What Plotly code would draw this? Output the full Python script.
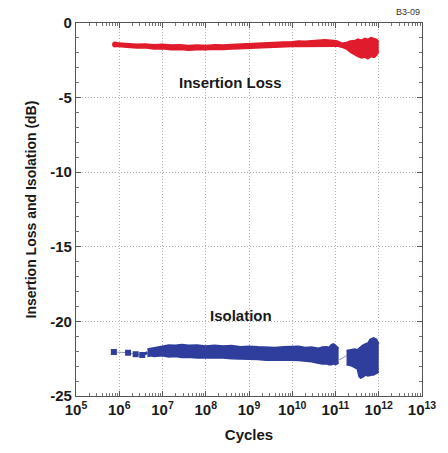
import plotly.graph_objects as go

# ---- data ----
il_x = [8e5, 1.26e6, 2.5e6, 4e6, 6.3e6, 1e7, 1.6e7, 2.5e7, 4e7, 6.3e7, 1e8, 1.6e8, 2.5e8, 4e8,
        6.3e8, 1e9, 1.6e9, 2.5e9, 4e9, 6.3e9, 1e10, 1.4e10, 2e10, 3e10, 4e10, 5.6e10, 8e10, 1.1e11,
        1.4e11, 1.8e11, 2.2e11, 2.8e11, 3.3e11, 4e11, 4.8e11, 5.6e11, 6.6e11, 7.9e11, 9e11, 1e12]
il_upper = [-1.33, -1.37, -1.42, -1.4, -1.45, -1.43, -1.48, -1.46, -1.5, -1.47, -1.5, -1.46,
            -1.48, -1.44, -1.42, -1.38, -1.36, -1.33, -1.3, -1.28, -1.25, -1.2, -1.22, -1.18,
            -1.2, -1.12, -1.16, -1.2, -1.35, -1.3, -1.2, -1.18, -1.08, -1.15, -1.03, -1.1, -0.98,
            -1.05, -1.1, -1.25]
il_lower = [-1.55, -1.6, -1.68, -1.66, -1.75, -1.72, -1.8, -1.78, -1.82, -1.79, -1.8, -1.76,
            -1.78, -1.75, -1.72, -1.7, -1.66, -1.64, -1.6, -1.61, -1.58, -1.57, -1.56, -1.55,
            -1.54, -1.55, -1.52, -1.55, -1.62, -1.75, -1.95, -2.15, -2.25, -2.35, -2.28, -2.4,
            -2.25, -2.3, -2.15, -1.9]

iso_pts_x = [7.5e5, 1.6e6, 2.4e6, 3.4e6]
iso_pts_y = [-22.05, -22.1, -22.2, -22.25]

iso1_x = [4.5e6, 5.5e6, 6.3e6, 8e6, 1e7, 1.4e7, 2e7, 2.8e7, 4e7, 6.3e7, 1e8, 1.6e8, 2.5e8, 4e8,
          6.3e8, 1e9, 1.6e9, 2.5e9, 4e9, 6.3e9, 1e10, 1.4e10, 2e10, 2.8e10, 4e10, 5e10, 6.3e10,
          7e10, 8e10, 9e10, 1e11, 1.18e11]
iso1_upper = [-21.85, -21.8, -21.75, -21.68, -21.65, -21.58, -21.6, -21.55, -21.6, -21.58, -21.65,
              -21.6, -21.65, -21.62, -21.7, -21.66, -21.7, -21.72, -21.75, -21.7, -21.7, -21.66,
              -21.75, -21.72, -21.8, -21.72, -21.7, -21.75, -21.55, -21.5, -21.6, -21.8]
iso1_lower = [-22.35, -22.3, -22.35, -22.3, -22.3, -22.38, -22.35, -22.42, -22.4, -22.45, -22.45,
              -22.4, -22.45, -22.5, -22.5, -22.55, -22.55, -22.6, -22.6, -22.55, -22.6, -22.62,
              -22.65, -22.7, -22.8, -22.85, -22.85, -22.9, -22.9, -22.85, -22.9, -22.8]

iso_gap_x = [1.18e11, 1.8e11]
iso_gap_y = [-22.6, -22.3]

iso2_x = [1.8e11, 2.2e11, 2.8e11, 3.2e11, 3.5e11, 3.8e11, 4.2e11, 5e11, 5.6e11, 6.3e11, 7e11,
          7.6e11, 8.9e11, 1e12]
iso2_upper = [-21.95, -21.9, -21.85, -21.9, -21.8, -21.75, -21.6, -21.5, -21.45, -21.2, -21.15,
              -21.1, -21.2, -21.5]
iso2_lower = [-22.9, -22.95, -23.1, -23.2, -23.7, -23.8, -23.75, -23.6, -23.65, -23.6, -23.6,
              -23.6, -23.5, -23.4]

x_tickvals = [1e5, 1e6, 1e7, 1e8, 1e9, 1e10, 1e11, 1e12, 1e13]
x_ticktext = ["10<sup>%d</sup>" % e for e in range(5, 14)]
y_tickvals = [0, -5, -10, -15, -20, -25]

RED = "#e01b2b"
BLUE = "#2f3e9c"

fig = go.Figure()


def band(x, lo, hi, color):
    fig.add_trace(go.Scatter(x=x, y=lo, mode="lines", line=dict(color=color, width=1.5),
                             hoverinfo="skip", showlegend=False))
    fig.add_trace(go.Scatter(x=x, y=hi, mode="lines", line=dict(color=color, width=1.5),
                             fill="tonexty", fillcolor=color, hoverinfo="skip", showlegend=False))


band(il_x, il_lower, il_upper, RED)
fig.add_trace(go.Scatter(x=[il_x[0]], y=[(il_upper[0] + il_lower[0]) / 2], mode="markers",
                         marker=dict(color=RED, size=6, symbol="circle"), showlegend=False))

fig.add_trace(go.Scatter(x=iso_pts_x, y=iso_pts_y, mode="markers+lines",
                         line=dict(color="#8f96c8", width=1),
                         marker=dict(color=BLUE, size=6, symbol="square"), showlegend=False))
fig.add_trace(go.Scatter(x=[iso_pts_x[-1], iso1_x[0]], y=[iso_pts_y[-1], -22.1], mode="lines",
                         line=dict(color=BLUE, width=3), showlegend=False))
band(iso1_x, iso1_lower, iso1_upper, BLUE)
fig.add_trace(go.Scatter(x=iso_gap_x, y=iso_gap_y, mode="lines",
                         line=dict(color="#8f96c8", width=1), showlegend=False))
band(iso2_x, iso2_lower, iso2_upper, BLUE)

font_bold = "Liberation Sans"
GRID = "#b4b4b4"

fig.update_layout(
    width=448, height=453,
    margin=dict(l=76, r=22, t=23, b=57),
    paper_bgcolor="white", plot_bgcolor="white",
    font=dict(family=font_bold, color="#1a1a1a"),
    showlegend=False,
    xaxis=dict(
        type="log", range=[5, 13],
        tickvals=x_tickvals, ticktext=["<b>%s</b>" % t for t in x_ticktext],
        tickfont=dict(size=15, family=font_bold, color="#1a1a1a"),
        ticks="inside", ticklen=5, tickcolor="#555",
        minor=dict(ticks="inside", ticklen=3, tickcolor="#777", showgrid=False,
                   tickvals=[m * 10 ** e for e in range(5, 13) for m in range(2, 10)]),
        showgrid=True, gridcolor=GRID, griddash="1px,2px", gridwidth=1,
        showline=True, linecolor="#555", linewidth=1.2, mirror="ticks",
        zeroline=False,
        title=dict(text="<b>Cycles</b>", font=dict(size=15, family=font_bold, color="#1a1a1a"),
                   standoff=12),
    ),
    yaxis=dict(
        range=[-25, 0],
        tickvals=y_tickvals, ticktext=["<b>%d</b>" % v for v in y_tickvals],
        tickfont=dict(size=15, family=font_bold, color="#1a1a1a"),
        ticks="inside", ticklen=5, tickcolor="#555",
        minor=dict(ticks="inside", ticklen=3, tickcolor="#777", dtick=1, showgrid=False),
        showgrid=True, gridcolor=GRID, griddash="1px,2px", gridwidth=1,
        showline=True, linecolor="#555", linewidth=1.2, mirror="ticks",
        zeroline=False,
        title=dict(text="<b>Insertion Loss and Isolation (dB)</b>",
                   font=dict(size=14, family=font_bold, color="#1a1a1a"), standoff=10),
    ),
    annotations=[
        dict(text="<b>Insertion Loss</b>", x=8.57, y=-4.0, xref="x", yref="y", showarrow=False,
             font=dict(size=15, family=font_bold, color="#1a1a1a")),
        dict(text="<b>Isolation</b>", x=8.82, y=-19.6, xref="x", yref="y", showarrow=False,
             font=dict(size=15, family=font_bold, color="#1a1a1a")),
        dict(text="B3-09", x=1.0, y=1.0, xref="paper", yref="paper", xanchor="right",
             yanchor="bottom", yshift=4, showarrow=False,
             font=dict(size=9, family=font_bold, color="#333")),
    ],
)

fig.write_html("out.html")
